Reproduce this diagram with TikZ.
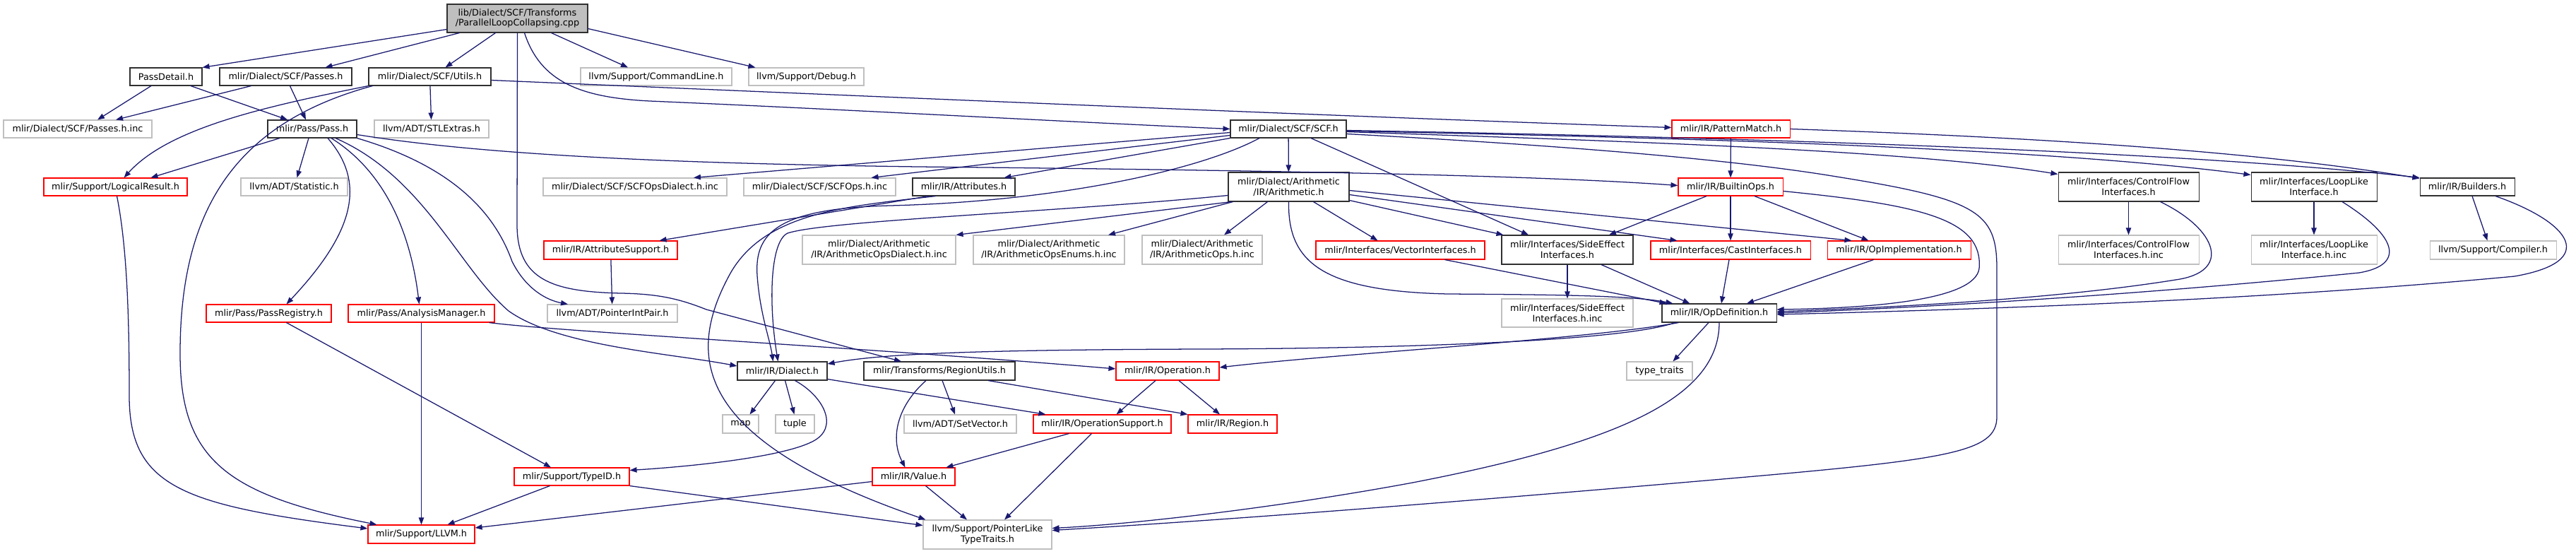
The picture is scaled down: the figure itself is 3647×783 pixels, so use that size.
\documentclass[tikz,border=0pt]{standalone}
\usepackage{fontspec}
\setmainfont{DejaVu Sans}
\usetikzlibrary{arrows.meta,calc}
\definecolor{edgec}{HTML}{191970}
\definecolor{grayb}{HTML}{BFBFBF}
\definecolor{blkb}{HTML}{303030}
\newcommand{\dbox}[7]{%
  \pgfmathsetmacro{\dboxw}{(#4-#2)*0.75}%
  \pgfmathsetmacro{\dboxh}{(#5-#3)*0.75}%
  \node[#6, minimum width=\dboxw pt, minimum height=\dboxh pt] (#1) at ({(#2+#4)/2},{(#3+#5)/2}) {#7};}
\begin{document}
\begin{tikzpicture}[x=0.75pt,y=-0.75pt,
  nb/.style={draw, rectangle, inner sep=0pt, fill=white, line width=0.8pt,
             font=\fontsize{9.6}{11}\selectfont, align=center, text=black},
  blk/.style={nb, draw=blkb},
  gry/.style={nb, draw=grayb},
  rd/.style={nb, draw=red},
  rootn/.style={nb, draw=blkb, fill=grayb},
  e/.style={draw=edgec, line width=0.95pt, -{Triangle[length=7.5pt,width=5.5pt]}}]
\fill[white] (0,0) rectangle (3647,783);
\useasboundingbox (0,0) rectangle (3647,783);

% ---------------- nodes ----------------
\dbox{cpp}{633}{6}{832}{46}{rootn}{lib/Dialect/SCF/Transforms\\/ParallelLoopCollapsing.cpp}
\dbox{pd}{184}{96}{286}{121}{blk}{PassDetail.h}
\dbox{passes}{311}{96}{498}{121}{blk}{mlir/Dialect/SCF/Passes.h}
\dbox{utils}{522}{96}{695}{121}{blk}{mlir/Dialect/SCF/Utils.h}
\dbox{cl}{822}{96}{1036}{121}{gry}{llvm/Support/CommandLine.h}
\dbox{dbg}{1060}{96}{1223}{121}{gry}{llvm/Support/Debug.h}
\dbox{pinc}{5}{170}{215}{195}{gry}{mlir/Dialect/SCF/Passes.h.inc}
\dbox{pass}{379}{170}{505}{195}{blk}{mlir/Pass/Pass.h}
\dbox{stl}{530}{170}{692}{195}{gry}{llvm/ADT/STLExtras.h}
\dbox{scf}{1742}{170}{1906}{195}{blk}{mlir/Dialect/SCF/SCF.h}
\dbox{pm}{2367}{170}{2534}{195}{rd}{mlir/IR/PatternMatch.h}
\dbox{lr}{62}{252}{265}{277}{rd}{mlir/Support/LogicalResult.h}
\dbox{stat}{341}{252}{492}{277}{gry}{llvm/ADT/Statistic.h}
\dbox{scfd}{769}{252}{1029}{277}{gry}{mlir/Dialect/SCF/SCFOpsDialect.h.inc}
\dbox{scfo}{1053}{252}{1268}{277}{gry}{mlir/Dialect/SCF/SCFOps.h.inc}
\dbox{attr}{1292}{252}{1437}{277}{blk}{mlir/IR/Attributes.h}
\dbox{arith}{1739}{244}{1910}{285}{blk}{mlir/Dialect/Arithmetic\\/IR/Arithmetic.h}
\dbox{bops}{2376}{252}{2524}{277}{rd}{mlir/IR/BuiltinOps.h}
\dbox{cfi}{2914}{244}{3113}{285}{blk}{mlir/Interfaces/ControlFlow\\Interfaces.h}
\dbox{lli}{3187}{244}{3365}{285}{blk}{mlir/Interfaces/LoopLike\\Interface.h}
\dbox{bld}{3426}{252}{3560}{277}{blk}{mlir/IR/Builders.h}
\dbox{asup}{770}{341}{959}{367}{rd}{mlir/IR/AttributeSupport.h}
\dbox{aod}{1136}{333}{1353}{374}{gry}{mlir/Dialect/Arithmetic\\/IR/ArithmeticOpsDialect.h.inc}
\dbox{aoe}{1378}{333}{1592}{374}{gry}{mlir/Dialect/Arithmetic\\/IR/ArithmeticOpsEnums.h.inc}
\dbox{aoo}{1617}{333}{1787}{374}{gry}{mlir/Dialect/Arithmetic\\/IR/ArithmeticOps.h.inc}
\dbox{vec}{1863}{341}{2102}{367}{rd}{mlir/Interfaces/VectorInterfaces.h}
\dbox{sei}{2126}{333}{2312}{374}{blk}{mlir/Interfaces/SideEffect\\Interfaces.h}
\dbox{cast}{2337}{341}{2563}{367}{rd}{mlir/Interfaces/CastInterfaces.h}
\dbox{oimp}{2587}{341}{2790}{367}{rd}{mlir/IR/OpImplementation.h}
\dbox{cfiinc}{2914}{333}{3113}{374}{gry}{mlir/Interfaces/ControlFlow\\Interfaces.h.inc}
\dbox{lliinc}{3187}{333}{3365}{374}{gry}{mlir/Interfaces/LoopLike\\Interface.h.inc}
\dbox{comp}{3440}{341}{3619}{367}{gry}{llvm/Support/Compiler.h}
\dbox{preg}{292}{431}{469}{456}{rd}{mlir/Pass/PassRegistry.h}
\dbox{am}{493}{431}{700}{456}{rd}{mlir/Pass/AnalysisManager.h}
\dbox{pip}{775}{431}{959}{456}{gry}{llvm/ADT/PointerIntPair.h}
\dbox{seiinc}{2126}{423}{2312}{463}{gry}{mlir/Interfaces/SideEffect\\Interfaces.h.inc}
\dbox{opdef}{2353}{430}{2515}{456}{blk}{mlir/IR/OpDefinition.h}
\dbox{dial}{1044}{512}{1171}{538}{blk}{mlir/IR/Dialect.h}
\dbox{ru}{1223}{512}{1437}{538}{blk}{mlir/Transforms/RegionUtils.h}
\dbox{op}{1580}{512}{1726}{538}{rd}{mlir/IR/Operation.h}
\dbox{tt}{2303}{512}{2396}{538}{gry}{type\_traits}
\dbox{map}{1023}{587}{1074}{613}{gry}{map}
\dbox{tup}{1098}{587}{1153}{613}{gry}{tuple}
\dbox{sv}{1280}{587}{1439}{613}{gry}{llvm/ADT/SetVector.h}
\dbox{ops}{1463}{587}{1658}{613}{rd}{mlir/IR/OperationSupport.h}
\dbox{reg}{1682}{587}{1808}{613}{rd}{mlir/IR/Region.h}
\dbox{tid}{728}{662}{891}{687}{rd}{mlir/Support/TypeID.h}
\dbox{val}{1235}{662}{1352}{687}{rd}{mlir/IR/Value.h}
\dbox{llvm}{521}{743}{672}{769}{rd}{mlir/Support/LLVM.h}
\dbox{plt}{1307}{736}{1489}{777}{gry}{llvm/Support/PointerLike\\TypeTraits.h}

% ---------------- edges ----------------
% from the .cpp
\draw[e] ($(cpp.south west)+(0,-5)$) -- (pd.north east);
\draw[e] ($(cpp.south west)+(18,0)$) -- ($(passes.north)+(56,0)$);
\draw[e] ($(cpp.south)+(-31,0)$) -- ($(utils.north)+(22,0)$);
\draw[e] ($(cpp.south)+(48,0)$) -- ($(cl.north)+(-40,0)$);
\draw[e] ($(cpp.south east)+(0,-6)$) -- ($(dbg.north west)+(10,0)$);
\draw[e] ($(cpp.south)+(10,0)$) .. controls (765,115) and (820,138) .. (920,143)
   .. controls (1200,155) and (1500,172) .. (scf.west);
\draw[e] (cpp.south) -- (732,320) .. controls (733,395) and (780,413) .. (880,415)
   .. controls (930,416) and (960,422) .. (1000,438) -- ($(ru.north)+(-54,0)$);

% PassDetail.h / Passes.h
\draw[e] ($(pd.south)+(-21,0)$) -- ($(pinc.north)+(28,0)$);
\draw[e] ($(pd.south)+(35,0)$) -- ($(pass.north)+(-35,0)$);
\draw[e] ($(passes.south)+(-49,0)$) -- ($(pinc.north)+(54,0)$);
\draw[e] ($(passes.south)+(6,0)$) -- ($(pass.north)+(-9,0)$);

% Utils.h
\draw[e] (utils.south west) .. controls (380,150) and (240,180) .. ($(lr.north)+(12,0)$);
\draw[e] ($(utils.south west)+(6,0)$) .. controls (330,175) and (255,300) .. (255,500)
   .. controls (255,650) and (320,700) .. ($(llvm.north west)+(13,0)$);
\draw[e] (utils) -- (stl);
\draw[e] ($(utils.east)+(0,5)$) .. controls (1200,135) and (1900,165) .. ($(pm.west)+(0,-2)$);

% Pass.h
\draw[e] ($(pass.south)+(-46,0)$) -- ($(lr.north)+(50,0)$);
\draw[e] ($(pass.south)+(-5,0)$) -- ($(stat.north)+(4,0)$);
\draw[e] ($(pass.south)+(22,0)$) .. controls (520,260) and (500,330) .. ($(preg.north)+(25,0)$);
\draw[e] ($(pass.south)+(27,0)$) .. controls (540,240) and (580,320) .. ($(am.north)+(-3,0)$);
\draw[e] ($(pass.south)+(33,0)$) .. controls (600,250) and (650,380) .. (720,440)
   .. controls (790,490) and (950,500) .. ($(dial.west)+(0,-7)$);
\draw[e] (pass.south east) .. controls (640,235) and (700,300) .. (725,370)
   .. controls (745,410) and (775,425) .. ($(pip.north)+(-63,0)$);
\draw[e] ($(pass.east)+(0,8)$) .. controls (700,222) and (1000,232) .. (1300,236)
   .. controls (1900,242) and (2200,250) .. ($(bops.west)+(0,-2)$);

% LogicalResult, AnalysisManager, PassRegistry, TypeID
\draw[e] ($(lr.south)+(2,0)$) .. controls (180,350) and (183,450) .. (183,560)
   .. controls (183,690) and (260,715) .. ($(llvm.west)+(0,-8)$);
\draw[e] (am) -- (llvm);
\draw[e] ($(am.south east)+(-8,0)$) .. controls (800,470) and (1200,490) .. ($(op.west)+(0,-3)$);
\draw[e] ($(preg.south)+(25,0)$) -- ($(tid.north)+(-29.5,0)$);
\draw[e] ($(tid.south)+(-31,0)$) -- ($(llvm.north)+(37,0)$);
\draw[e] (tid.south east) -- ($(plt.west)+(0,-13)$);

% Dialect.h
\draw[e] ($(dial.south)+(18,0)$) .. controls (1165,560) and (1190,605) .. (1150,625)
   .. controls (1100,650) and (950,662) .. ($(tid.east)+(0,-9)$);
\draw[e] ($(dial.south)+(-10,0)$) -- ($(map.north)+(13,0)$);
\draw[e] ($(dial.south)+(4,0)$) -- ($(tup.north)+(-1,0)$);
\draw[e] ($(dial.south east)+(0,-2)$) -- ($(ops.north west)+(18,0)$);

% RegionUtils.h
\draw[e] ($(ru.south)+(-19,0)$) .. controls (1270,575) and (1260,620) .. ($(val.north)+(-12,0)$);
\draw[e] ($(ru.south)+(4,0)$) -- ($(sv.north)+(-7.5,0)$);
\draw[e] ($(ru.south)+(69,0)$) -- (reg.north west);

% Operation, OperationSupport, Value
\draw[e] ($(op.south)+(-17,0)$) -- ($(ops.north)+(20,0)$);
\draw[e] ($(op.south)+(16,0)$) -- ($(reg.north)+(-18,0)$);
\draw[e] ($(ops.south)+(-47,0)$) -- ($(val.north)+(46,0)$);
\draw[e] ($(ops.south)+(-15,0)$) -- ($(plt.north)+(24,0)$);
\draw[e] ($(val.south)+(17,0)$) -- ($(plt.north)+(-29,0)$);
\draw[e] ($(val.west)+(0,7)$) -- ($(llvm.east)+(0,-9)$);

% Attributes.h
\draw[e] ($(attr.south)+(-50,0)$) -- ($(asup.north east)+(-26,0)$);
\draw[e] ($(attr.south)+(-40,0)$) .. controls (1200,292) and (1085,300) .. (1035,385)
   .. controls (965,510) and (990,625) .. ($(plt.north west)+(4,0)$);
\draw[e] (asup) -- (pip);

% SCF.h
\draw[e] ($(scf.west)+(0,5)$) -- ($(scfd.north)+(83,0)$);
\draw[e] ($(scf.west)+(0,9)$) -- ($(scfo.north)+(73,0)$);
\draw[e] (scf.south west) -- ($(attr.north)+(57,0)$);
\draw[e] ($(scf.south)+(-41,0)$) .. controls (1700,240) and (1500,285) .. (1260,291)
   .. controls (1100,295) and (1068,330) .. (1072,390)
   .. controls (1076,445) and (1090,480) .. ($(dial.north)+(-13,0)$);
\draw[e] (scf) -- (arith);
\draw[e] ($(scf.south)+(32,0)$) -- ($(sei.north)+(-55,0)$);
\draw[e] ($(scf.east)+(0,4)$) .. controls (2300,200) and (2700,212) .. ($(cfi.north west)+(0,3)$);
\draw[e] ($(scf.east)+(0,3)$) .. controls (2400,195) and (2900,210) .. ($(lli.north west)+(0,4)$);
\draw[e] ($(scf.east)+(0,2)$) .. controls (2500,195) and (3100,215) .. (bld.north west);
\draw[e] ($(scf.east)+(0,7)$) .. controls (2200,205) and (2450,225) .. (2600,250)
   .. controls (2800,282) and (2827,300) .. (2827,380) -- (2827,590)
   .. controls (2827,640) and (2760,650) .. (2450,677)
   .. controls (2000,716) and (1700,738) .. ($(plt.east)+(0,-6)$);

% PatternMatch.h
\draw[e] (pm) -- (bops);
\draw[e] (pm.east) .. controls (2900,195) and (3200,215) .. ($(bld.north west)+(0,1)$);

% Arithmetic.h
\draw[e] ($(arith.west)+(0,12)$) .. controls (1500,300) and (1170,312) .. (1115,330)
   .. controls (1090,342) and (1088,430) .. ($(dial.north)+(-6,0)$);
\draw[e] ($(arith.south west)+(5,0)$) -- (aod.north east);
\draw[e] ($(arith.south)+(-79,0)$) -- ($(aoe.north)+(84,0)$);
\draw[e] ($(arith.south)+(-30,0)$) -- ($(aoo.north)+(31,0)$);
\draw[e] ($(arith.south)+(35,0)$) -- ($(vec.north)+(-32,0)$);
\draw[e] ($(arith.south east)+(0,-2)$) -- ($(sei.north west)+(3,0)$);
\draw[e] ($(arith.east)+(0,11)$) -- ($(cast.north west)+(38,0)$);
\draw[e] ($(arith.east)+(0,5)$) -- ($(oimp.north west)+(35,0)$);
\draw[e] (arith.south) .. controls (1823,370) and (1870,412) .. (2050,416)
   .. controls (2200,417) and (2310,418) .. ($(opdef.north west)+(16,0)$);

% BuiltinOps.h
\draw[e] ($(bops.south)+(-34,0)$) -- ($(sei.north)+(59,0)$);
\draw[e] (bops) -- (cast);
\draw[e] ($(bops.south)+(34,0)$) -- ($(oimp.north)+(-43,0)$);
\draw[e] ($(bops.east)+(0,6)$) .. controls (2720,290) and (2808,310) .. (2802,380)
   .. controls (2796,425) and (2650,436) .. ($(opdef.east)+(0,-5)$);

% interfaces
\draw[e] (sei) -- (seiinc);
\draw[e] ($(sei.south)+(48,0)$) -- ($(opdef.north west)+(40,0)$);
\draw[e] ($(vec.south)+(63,0)$) -- ($(opdef.north west)+(7,0)$);
\draw[e] ($(cast.south)+(-2,0)$) -- ($(opdef.north)+(3,0)$);
\draw[e] ($(oimp.south)+(-36,0)$) -- ($(opdef.north)+(39,0)$);
\draw[e] (cfi) -- (cfiinc);
\draw[e] ($(cfi.south)+(45,0)$) .. controls (3140,325) and (3160,385) .. (3080,396)
   .. controls (2900,425) and (2650,436) .. ($(opdef.east)+(0,-2)$);
\draw[e] (lli) -- (lliinc);
\draw[e] ($(lli.south)+(40,0)$) .. controls (3395,335) and (3405,375) .. (3340,386)
   .. controls (3000,420) and (2700,436) .. (opdef.east);
\draw[e] ($(bld.south)+(7,0)$) -- ($(comp.north)+(-8,0)$);
\draw[e] ($(bld.south)+(40,0)$) .. controls (3640,315) and (3680,370) .. (3560,391)
   .. controls (3200,425) and (2800,438) .. ($(opdef.east)+(0,2)$);

% OpDefinition.h
\draw[e] ($(opdef.south)+(-15,0)$) -- ($(tt.north)+(19,0)$);
\draw[e] (opdef.south) .. controls (2434,560) and (2300,625) .. (2000,683)
   .. controls (1800,720) and (1600,742) .. ($(plt.east)+(0,-9)$);
\draw[e] ($(opdef.south west)+(19,0)$) .. controls (2300,482) and (2000,493) .. (1700,494)
   .. controls (1400,495) and (1250,500) .. ($(dial.east)+(0,-10)$);
\draw[e] ($(opdef.south west)+(24,0)$) .. controls (2250,480) and (1900,500) .. ($(op.east)+(0,-5)$);
\end{tikzpicture}
\end{document}
